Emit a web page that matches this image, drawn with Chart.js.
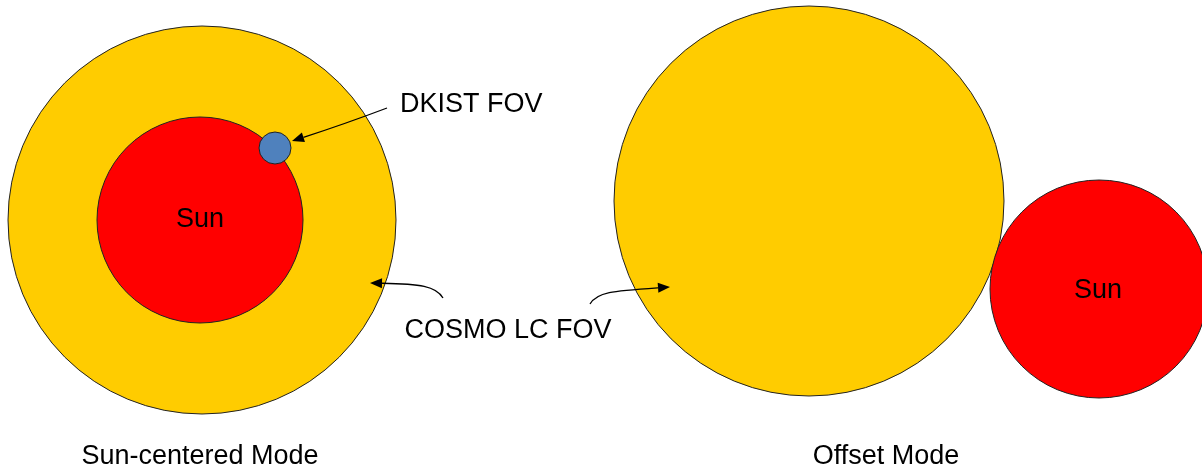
<!DOCTYPE html>
<html>
<head>
<meta charset="utf-8">
<script src="https://cdn.jsdelivr.net/npm/chart.js@4/dist/chart.umd.min.js"></script>
<style>
  html, body { margin: 0; padding: 0; background: #fff; }
  canvas { display: block; }
</style>
</head>
<body>
<canvas id="fovChart" width="1202" height="470"></canvas>
<script>
// circles: field of view discs and the sun, in page units (x right, y down)
const circleNames = ['COSMO LC FOV', 'Sun', 'DKIST FOV', 'COSMO LC FOV (offset)', 'Sun (offset)'];
const circleX = [202, 200, 275, 809, 1099];
const circleY = [220, 220, 148, 201, 289];
const circleR = [194, 103, 16, 195, 109];
const circleColors = ['#FFCC00', '#FF0000', '#4F81BD', '#FFCC00', '#FF0000'];

// text labels
const labelText = ['Sun', 'Sun', 'DKIST FOV', 'COSMO LC FOV', 'Sun-centered Mode', 'Offset Mode'];
const labelX = [200, 1098, 400, 508, 200, 886];
const labelY = [220, 291, 105, 331, 457, 457];
const labelAlign = ['center', 'center', 'left', 'center', 'center', 'center'];

// arrows: start, two control points, tip
const arrowFrom = [[387, 108], [443, 298], [590, 304]];
const arrowCtrl1 = [[350, 122], [436, 286], [597, 292]];
const arrowCtrl2 = [[320, 132], [420, 284], [612, 291]];
const arrowTo = [[292, 141], [370, 283], [670, 287]];

const annotations = {
  id: 'annotations',
  afterDatasetsDraw(chart) {
    const ctx = chart.ctx;
    const sx = chart.scales.x, sy = chart.scales.y;
    const px = p => [sx.getPixelForValue(p[0]), sy.getPixelForValue(p[1])];
    ctx.save();
    ctx.strokeStyle = '#000';
    ctx.fillStyle = '#000';
    ctx.lineWidth = 1.3;
    arrowFrom.forEach((f, i) => {
      const a = px(f), c1 = px(arrowCtrl1[i]), c2 = px(arrowCtrl2[i]), b = px(arrowTo[i]);
      const ang = Math.atan2(b[1] - c2[1], b[0] - c2[0]);
      const len = 12, half = 5;
      const bx = b[0] - len * Math.cos(ang), by = b[1] - len * Math.sin(ang);
      ctx.beginPath();
      ctx.moveTo(a[0], a[1]);
      ctx.bezierCurveTo(c1[0], c1[1], c2[0], c2[1], bx, by);
      ctx.stroke();
      ctx.beginPath();
      ctx.moveTo(b[0], b[1]);
      ctx.lineTo(bx + half * Math.sin(ang), by - half * Math.cos(ang));
      ctx.lineTo(bx - half * Math.sin(ang), by + half * Math.cos(ang));
      ctx.closePath();
      ctx.fill();
    });
    ctx.font = '27px "Liberation Sans", Arial, sans-serif';
    ctx.textBaseline = 'middle';
    labelText.forEach((t, i) => {
      const p = px([labelX[i], labelY[i]]);
      ctx.textAlign = labelAlign[i];
      ctx.fillText(t, p[0], p[1]);
    });
    ctx.restore();
  }
};

new Chart(document.getElementById('fovChart'), {
  type: 'bubble',
  data: {
    labels: circleNames,
    datasets: [{
      label: 'Fields of view',
      data: circleX.map((x, i) => ({ x: x, y: circleY[i], r: circleR[i] })),
      backgroundColor: circleColors,
      borderColor: '#222',
      borderWidth: 1,
      clip: false
    }]
  },
  options: {
    responsive: false,
    animation: false,
    events: [],
    layout: { padding: 0, autoPadding: false },
    plugins: {
      legend: { display: false },
      tooltip: { enabled: false }
    },
    scales: {
      x: { type: 'linear', min: 0, max: 1202, display: false },
      y: { type: 'linear', min: 0, max: 470, reverse: true, display: false }
    }
  },
  plugins: [annotations]
});
</script>
</body>
</html>
